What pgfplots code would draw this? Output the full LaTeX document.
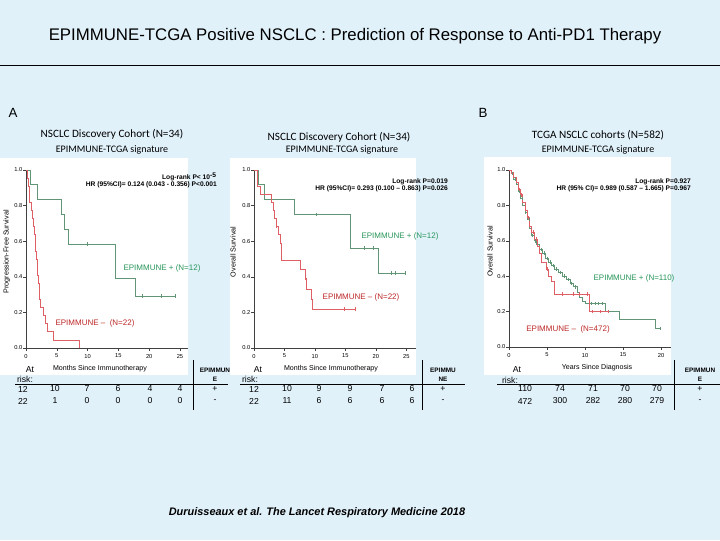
\documentclass[border=0pt]{standalone}
\usepackage{pgfplots}
\pgfplotsset{compat=1.18}
\usepackage{fontspec}
\setmainfont{Liberation Sans}
\newfontfamily\calib{Carlito}

\definecolor{bgblue}{RGB}{225,241,250}
\definecolor{kmgreen}{RGB}{96,150,118}
\definecolor{kmred}{RGB}{222,96,100}
\definecolor{labgreen}{RGB}{40,150,90}
\definecolor{labred}{RGB}{190,40,40}

\newcommand{\fs}[1]{\fontsize{#1}{#1}\selectfont}

\pgfplotsset{
  km/.style={
    scale only axis, anchor=south west, clip=false,
    width=121.5pt, height=133.5pt,
    xmin=0, ymin=0, ymax=1,
    axis x line*=bottom, axis y line*=left,
    axis line style={-, black!75, line width=0.4pt},
    tick align=outside, major tick length=2pt,
    tick style={black!75, line width=0.4pt},
    ytick={0,0.2,0.4,0.6,0.8,1},
    ticklabel style={font=\fs{4.3}},
    yticklabel style={inner sep=0.6pt, /pgf/number format/.cd, fixed, fixed zerofill, precision=1},
    xticklabel style={yshift=1pt},
    /pgf/number format/assume math mode=true,
    ylabel style={font=\fs{5.4}, anchor=center},
  },
  gline/.style={const plot, kmgreen, line width=0.5pt, no marks},
  rline/.style={const plot, kmred, line width=0.5pt, no marks},
  gcens/.style={only marks, mark=|, mark size=1.3pt, kmgreen, mark options={line width=0.4pt}},
  rcens/.style={only marks, mark=|, mark size=1.3pt, kmred, mark options={line width=0.4pt}},
}
\tikzset{lr/.style={font=\bfseries\fs{5}, anchor=east, inner sep=0pt}}

\begin{document}
\begin{tikzpicture}[x=0.75pt, y=0.75pt]
\fill[bgblue] (0,0) rectangle (720,540);
\draw[black, line width=0.6pt] (0,475) -- (720,475);
\node[font=\fs{12.6}] at (355,504) {EPIMMUNE-TCGA Positive NSCLC : Prediction of Response to Anti-PD1 Therapy};
\node[font=\fs{10}, anchor=west] at (4,427) {A};
\node[font=\fs{10}, anchor=west] at (474,427) {B};

\node[font=\calib\fs{8.4}] at (112,406) {NSCLC Discovery Cohort (N=34)};
\node[font=\calib\fs{7.5}] at (112,390) {EPIMMUNE-TCGA signature};
\node[font=\calib\fs{8.4}] at (339,403) {NSCLC Discovery Cohort (N=34)};
\node[font=\calib\fs{7.5}] at (342,390) {EPIMMUNE-TCGA signature};
\node[font=\calib\fs{8.4}] at (598,405) {TCGA NSCLC cohorts (N=582)};
\node[font=\calib\fs{7.5}] at (598,390) {EPIMMUNE-TCGA signature};

\fill[white] (0,165) rectangle (188,382);
\fill[white] (230,165) rectangle (416,382);
\fill[white] (484,165) rectangle (671,383);

\coordinate (p1) at (26,192);
\coordinate (p2) at (254,192);
\coordinate (p3) at (509,193);

% ---------- panel 1 : PFS
\begin{axis}[km, at={(p1)}, xmax=26.3, xtick={0,5,...,25},
  ylabel={Progression-Free Survival},
  ylabel style={at={(axis description cs:-0.118,0.54)}}]
\addplot[gline] table {
0 1
0.76 0.917
1.78 0.833
5.67 0.750
6.26 0.667
6.9 0.583
14.5 0.389
17.8 0.292
24.2 0.292
};
\addplot[gcens] table {
9.9 0.583
18.9 0.292
21.9 0.292
24.2 0.292
};
\addplot[rline] table {
0 1
0.2 0.955
0.4 0.909
0.5 0.864
0.6 0.818
0.9 0.773
1.05 0.727
1.2 0.682
1.3 0.636
1.45 0.591
1.55 0.545
1.7 0.500
1.8 0.455
1.9 0.409
2.0 0.364
2.1 0.318
2.2 0.273
2.4 0.227
2.8 0.182
3.2 0.136
3.5 0.091
4.5 0.045
8.6 0
};
\end{axis}

% ---------- panel 2 : OS
\begin{axis}[km, at={(p2)}, xmax=26.6, xtick={0,5,...,25},
  ylabel={Overall Survival},
  ylabel style={at={(axis description cs:-0.130,0.54)}}]
\addplot[gline] table {
0 1
0.66 0.917
1.65 0.833
6.6 0.750
15.8 0.5625
20.4 0.422
24.8 0.422
};
\addplot[gcens] table {
10.3 0.750
18.1 0.5625
19.5 0.5625
22.5 0.422
23.2 0.422
24.8 0.422
};
\addplot[rline] table {
0 1
0.55 0.955
0.6 0.909
1.0 0.864
2.9 0.818
3.2 0.773
3.4 0.727
3.7 0.682
4.0 0.636
4.4 0.590
4.5 0.490
7.6 0.440
8.4 0.385
8.6 0.330
9.4 0.275
9.6 0.220
16.6 0.220
};
\addplot[rcens] table {
3.7 0.682
8.5 0.385
14.8 0.220
16.6 0.220
};
\end{axis}

% ---------- panel 3 : TCGA OS
\begin{axis}[km, at={(p3)}, height=132.75pt, xmax=21.3, xtick={0,5,...,20},
  ylabel={Overall Survival},
  ylabel style={at={(axis description cs:-0.117,0.54)}}]
\addplot[gline] table {
0 1
0.3 0.98
0.6 0.95
0.9 0.92
1.2 0.88
1.5 0.84
1.8 0.80
2.1 0.76
2.4 0.72
2.7 0.67
3.0 0.63
3.3 0.60
3.6 0.58
4.0 0.55
4.4 0.53
4.8 0.50
5.2 0.48
5.6 0.46
6.0 0.44
6.5 0.42
7.0 0.40
7.5 0.38
8.0 0.36
8.5 0.34
9.0 0.31
9.3 0.28
9.6 0.26
10.0 0.245
12.6 0.20
14.5 0.155
19.2 0.105
19.9 0.105
};
\addplot[gcens] table {
0.4 0.98
0.8 0.95
1.3 0.88
1.7 0.84
2.2 0.76
2.6 0.72
3.1 0.63
3.5 0.60
4.2 0.55
4.6 0.53
5.0 0.50
5.4 0.48
5.8 0.46
6.2 0.44
6.8 0.42
7.2 0.40
7.8 0.38
8.2 0.36
8.7 0.34
10.8 0.245
11.3 0.245
11.8 0.245
12.3 0.245
19.9 0.105
};
\addplot[rline] table {
0 1
0.3 0.98
0.6 0.96
0.9 0.93
1.2 0.89
1.5 0.86
1.8 0.82
2.1 0.77
2.4 0.73
2.7 0.68
3.0 0.65
3.3 0.61
3.7 0.57
4.0 0.53
4.2 0.48
4.9 0.44
5.2 0.40
5.6 0.37
5.9 0.30
10.5 0.20
13.1 0.20
};
\addplot[rcens] table {
0.5 0.98
1.3 0.89
1.6 0.86
2.5 0.73
3.2 0.65
3.6 0.61
5.0 0.44
7.0 0.30
8.5 0.30
9.3 0.30
10.3 0.30
11.0 0.20
12.0 0.20
13.1 0.20
};
\end{axis}

% ---------- curve labels
\node[font=\fs{6}, text=labgreen] at (162,272) {EPIMMUNE + (N=12)};
\node[font=\fs{6}, text=labred] at (95,217) {EPIMMUNE --\ \ (N=22)};
\node[font=\fs{6}, text=labgreen] at (400,304) {EPIMMUNE + (N=12)};
\node[font=\fs{6}, text=labred] at (361,243) {EPIMMUNE -- (N=22)};
\node[font=\fs{6}, text=labgreen] at (634,262) {EPIMMUNE + (N=110)};
\node[font=\fs{6}, text=labred] at (568,211) {EPIMMUNE --\ \ (N=472)};

% ---------- log-rank
\node[lr] at (217,363) {Log-rank P< 10\textsuperscript{-5}};
\node[lr] at (217,355) {HR (95\%CI)= 0.124 (0.043 - 0.356) P<0.001};
\node[lr] at (448,358) {Log-rank P=0.019};
\node[lr] at (448,351) {HR (95\%CI)= 0.293 (0.100 -- 0.863) P=0.026};
\node[lr] at (691,358) {Log-rank P=0.927};
\node[lr] at (691,351) {HR (95\% CI)= 0.989 (0.587 -- 1.665) P=0.967};

% ---------- at risk tables
\draw[black, line width=0.5pt] (15,156) -- (228,156);
\draw[black, line width=0.5pt] (240,156) -- (465,156);
\draw[black, line width=0.5pt] (497,156) -- (720,156);
\draw[black, line width=0.5pt] (193,180) -- (193,130);
\draw[black, line width=0.5pt] (422,180) -- (422,130);
\draw[black, line width=0.5pt] (674,180) -- (674,130);

\node[font=\fs{5.3}] at (100,171) {Months Since Immunotherapy};
\node[font=\fs{5.3}] at (331,171) {Months Since Immunotherapy};
\node[font=\fs{5.3}] at (597,172) {Years Since Diagnosis};

\node[font=\fs{6.5}] at (30,170) {At};
\node[font=\fs{6.5}] at (25,161) {risk:};
\node[font=\fs{6.5}] at (258,170) {At};
\node[font=\fs{6.5}] at (250,161) {risk:};
\node[font=\fs{6.5}] at (517,170) {At};
\node[font=\fs{6.5}] at (510,160) {risk:};

\node[font=\bfseries\fs{4.8}] at (215,170) {EPIMMUN};
\node[font=\bfseries\fs{4.8}] at (215,161) {E};
\node[font=\bfseries\fs{4.8}] at (443,170) {EPIMMU};
\node[font=\bfseries\fs{4.8}] at (443,161) {NE};
\node[font=\bfseries\fs{4.8}] at (700,170) {EPIMMUN};
\node[font=\bfseries\fs{4.8}] at (700,161) {E};

\foreach \x/\a/\b in {23/12/22, 55/10/1, 87/7/0, 118/6/0, 150/4/0, 180/4/0, 215/+/-,
                      254/12/22, 287/10/11, 319/9/6, 350/9/6, 382/7/6, 412/6/6, 443/+/-,
                      525/110/472, 560/74/300, 593/71/282, 625/70/280, 657/70/279, 700/+/-}{
  \node[font=\fs{6.5}] at (\x,151) {\a};
  \node[font=\fs{6.5}] at (\x,139) {\b};
}

\node[font=\bfseries\itshape\fs{8.2}] at (317,27) {Duruisseaux et al. The Lancet Respiratory Medicine 2018};

\pgfresetboundingbox
\useasboundingbox (0,0) rectangle (720,540);
\end{tikzpicture}
\end{document}
